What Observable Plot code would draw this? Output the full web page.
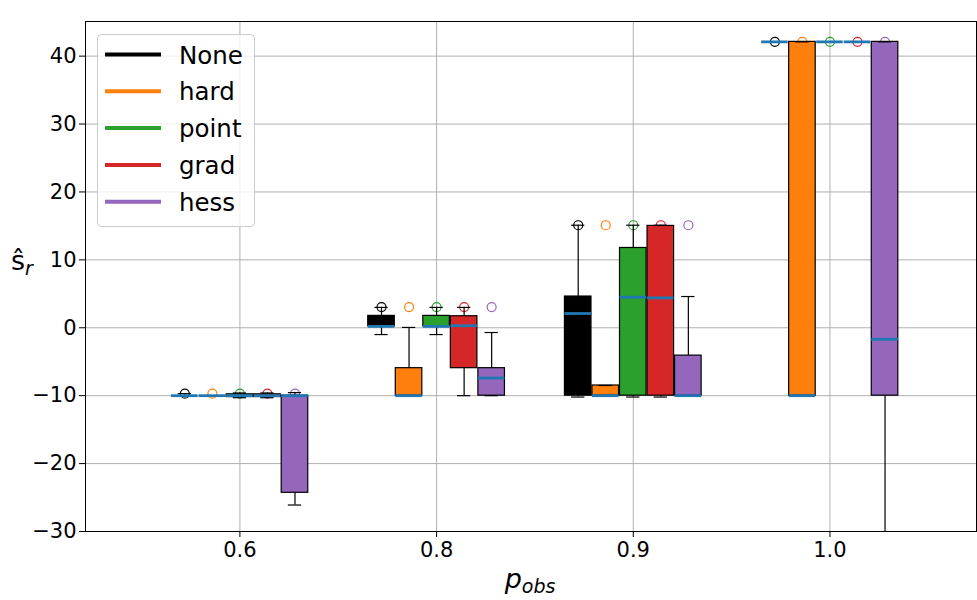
<!DOCTYPE html>
<html>
<head>
<meta charset="utf-8">
<script src="https://cdn.jsdelivr.net/npm/d3@7"></script>
<script src="https://cdn.jsdelivr.net/npm/@observablehq/plot@0.6"></script>
<style>
  html, body { margin: 0; padding: 0; background: #fff; }
  svg { display: block; }
</style>
</head>
<body>
<div id="chart"></div>
<script>
// ---- data ----
const groups = ["0.6", "0.8", "0.9", "1.0"];
const series = ["None", "hard", "point", "grad", "hess"];
const colors = ["#000000", "#ff7f0e", "#2ca02c", "#d62728", "#9467bd"];
const yTicks = [-30, -20, -10, 0, 10, 20, 30, 40];

// box statistics, indexed [series][group]
const whisLow = [
  [-10.0, -1.0, -10.2, 42.1],
  [-10.0, -10.0, -10.0, -10.0],
  [-10.3, -1.0, -10.2, 42.1],
  [-10.3, -10.0, -10.2, 42.1],
  [-26.1, -10.0, -10.1, -40.0]
];
const q1s = [
  [-10.0, 0.2, -10.0, 42.1],
  [-10.0, -10.0, -10.0, -10.0],
  [-10.2, 0.2, -10.0, 42.1],
  [-10.2, -5.95, -10.0, 42.1],
  [-24.3, -10.0, -10.0, -10.0]
];
const medians = [
  [-10.0, 0.2, 2.1, 42.1],
  [-10.0, -10.0, -10.0, -10.0],
  [-10.0, 0.2, 4.5, 42.1],
  [-10.0, 0.3, 4.4, 42.1],
  [-10.0, -7.4, -10.0, -1.7]
];
const q3s = [
  [-10.0, 1.75, 4.6, 42.1],
  [-10.0, -5.95, -8.5, 42.1],
  [-9.8, 1.75, 11.75, 42.1],
  [-9.8, 1.7, 15.0, 42.1],
  [-10.0, -5.95, -4.1, 42.1]
];
const whisHigh = [
  [-9.7, 3.0, 15.1, 42.1],
  [-10.0, 0.05, -8.5, 42.1],
  [-9.6, 3.0, 15.1, 42.1],
  [-9.6, 3.0, 15.1, 42.1],
  [-9.55, -0.7, 4.6, 42.1]
];
// open-circle markers (one value per group, drawn for every series)
const markers = [-9.7, 3.05, 15.1, 42.1];

// ---- build table ----
const offset = 0.14, boxW = 0.135, capW = boxW / 2;
const rows = [];
series.forEach((s, j) => groups.forEach((g, i) => rows.push({
  s, g, pos: i + (j - 2) * offset,
  lo: whisLow[j][i], q1: q1s[j][i], med: medians[j][i],
  q3: q3s[j][i], hi: whisHigh[j][i], mk: markers[i]
})));

const W = 977, H = 600;
const lw = 1.2;
const chart = Plot.plot({
  width: W, height: H,
  marginLeft: 85, marginRight: 1, marginTop: 21, marginBottom: 69,
  style: { fontFamily: "DejaVu Sans", fontSize: "21px", color: "black", background: "white" },
  x: { domain: [-0.785, 3.745], label: null },
  y: { domain: [-30, 45.1], label: null },
  color: { domain: series, range: colors },
  marks: [
    Plot.gridY(yTicks, { stroke: "#b0b0b0", strokeOpacity: 1, strokeWidth: 1 }),
    Plot.gridX([0, 1, 2, 3], { stroke: "#b0b0b0", strokeOpacity: 1, strokeWidth: 1 }),
    Plot.dot(rows, { x: "pos", y: "mk", r: 4.5, stroke: "s", fill: "none", strokeWidth: 1.2 }),
    Plot.rect(rows, { x1: d => d.pos - boxW / 2, x2: d => d.pos + boxW / 2, y1: "q1", y2: "q3",
      fill: "s", stroke: "black", strokeWidth: lw }),
    Plot.ruleX(rows, { x: "pos", y1: "q3", y2: "hi", stroke: "black", strokeWidth: lw }),
    Plot.ruleX(rows, { x: "pos", y1: "q1", y2: "lo", stroke: "black", strokeWidth: lw, clip: true }),
    Plot.ruleY(rows, { y: "hi", x1: d => d.pos - capW / 2, x2: d => d.pos + capW / 2, stroke: "black", strokeWidth: lw }),
    Plot.ruleY(rows.filter(d => d.lo >= -30), { y: "lo", x1: d => d.pos - capW / 2, x2: d => d.pos + capW / 2, stroke: "black", strokeWidth: lw }),
    Plot.ruleY(rows, { y: "med", x1: d => d.pos - boxW / 2, x2: d => d.pos + boxW / 2, stroke: "#1f77b4", strokeWidth: 2.8 }),
    Plot.axisY({ ticks: yTicks, tickSize: 6, tickPadding: 3, label: null, stroke: "black", fill: "black",
      tickFormat: d => d < 0 ? "\u2212" + Math.abs(d) : String(d) }),
    Plot.axisX({ ticks: [0, 1, 2, 3], tickFormat: i => groups[i], tickSize: 6, tickPadding: 5, label: null,
      stroke: "black", fill: "black" }),
    Plot.frame({ stroke: "black", strokeWidth: 1 })
  ]
});

document.getElementById("chart").appendChild(chart);

// ---- axis labels and legend ----
const svg = d3.select(chart);
const font = "DejaVu Sans";
// tick labels: the only text Plot drew
svg.selectAll("text").style("font-size", "21px").style("font-family", font).style("font-variant", "normal");

const xl = svg.append("text")
  .attr("x", 530).attr("y", 588).attr("text-anchor", "middle")
  .style("font-family", font).style("font-size", "27px").attr("fill", "black");
xl.append("tspan").attr("font-style", "italic").text("p");
xl.append("tspan").attr("font-style", "italic").style("font-size", "19px").attr("dy", 5).text("obs");

const yl = svg.append("text")
  .attr("x", 11).attr("y", 270).attr("text-anchor", "start")
  .style("font-family", font).style("font-size", "27px").attr("fill", "black");
yl.append("tspan").text("\u015D");
yl.append("tspan").attr("font-style", "italic").style("font-size", "19px").attr("dy", 5).text("r");

const lg = svg.append("g").attr("text-anchor", "start");
lg.append("rect")
  .attr("x", 97.5).attr("y", 34.5).attr("width", 157).attr("height", 192).attr("rx", 4)
  .attr("fill", "white").attr("fill-opacity", 0.8).attr("stroke", "#cccccc").attr("stroke-width", 1);
series.forEach((s, j) => {
  const y = 54.5 + j * 36.8;
  lg.append("line").attr("x1", 105).attr("x2", 161).attr("y1", y).attr("y2", y)
    .attr("stroke", colors[j]).attr("stroke-width", 4);
  lg.append("text").attr("x", 179).attr("y", y + 9).attr("text-anchor", "start")
    .style("font-family", font).style("font-size", "24.5px").attr("fill", "black").text(s);
});
</script>
</body>
</html>
